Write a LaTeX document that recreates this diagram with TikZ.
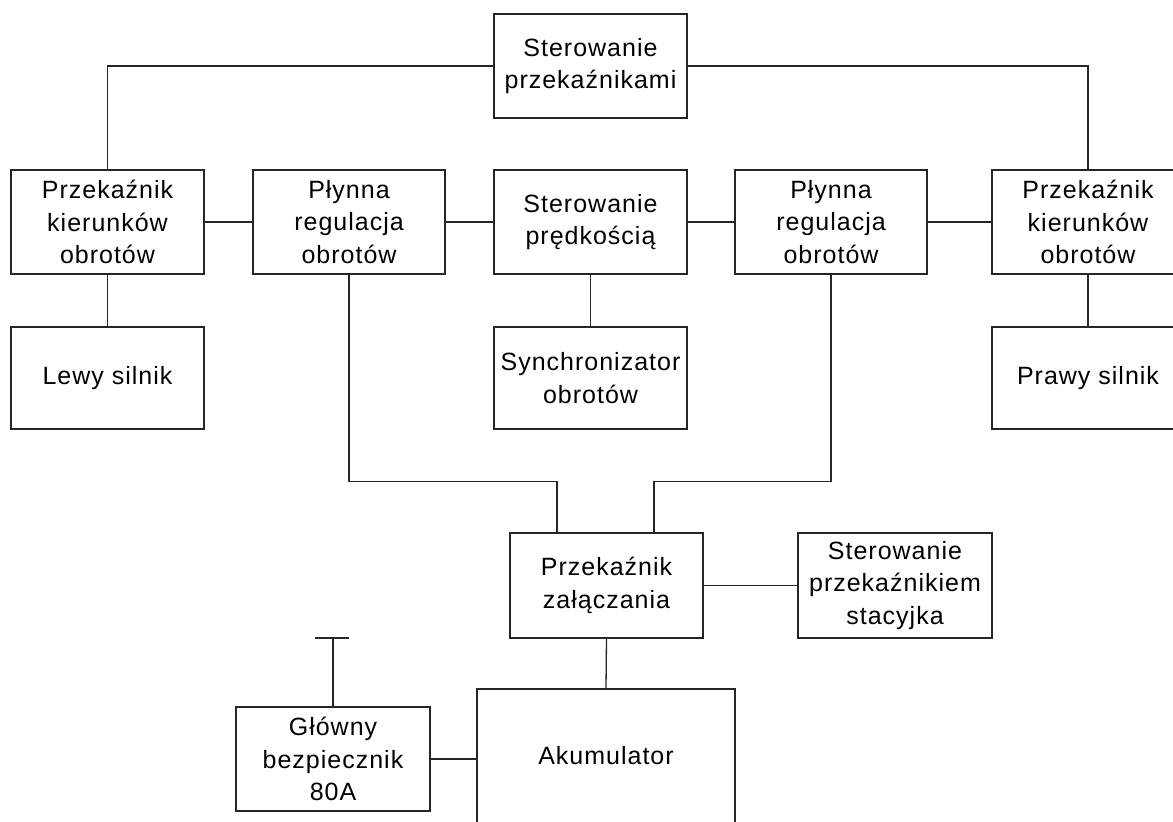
\documentclass[tikz,border=0pt]{standalone}
\usepackage{fontspec}
\setmainfont[LetterSpace=4.0]{Liberation Sans}
\begin{document}
\begin{tikzpicture}[x=1pt,y=-1pt,
  box/.style={draw=black!85, line width=1.3pt, inner sep=0pt, align=center,
    font=\fontsize{25}{32.5}\selectfont, minimum width=193pt, minimum height=104pt},
  wire/.style={draw=black!85, line width=1.3pt}]
\useasboundingbox (0,0) rectangle (1173,822);
\clip (0,0) rectangle (1173,822);
% top row
\node[box] (top) at (590.5,66) {Sterowanie\\przekaźnikami};
% second row
\node[box] (relL) at (107.5,222) {Przekaźnik\\kierunków\\obrotów};
\node[box, minimum width=192pt] (plL) at (349,222) {Płynna\\regulacja\\obrotów};
\node[box] (speed) at (590.5,222) {Sterowanie\\prędkością};
\node[box, minimum width=192pt] (plR) at (831,222) {Płynna\\regulacja\\obrotów};
\node[box, minimum width=192pt] (relR) at (1088,222) {Przekaźnik\\kierunków\\obrotów};
% third row
\node[box, minimum height=102pt] (lewy) at (107.5,378) {Lewy silnik};
\node[box, minimum height=102pt] (sync) at (590.5,378) {Synchronizator\\obrotów};
\node[box, minimum width=192pt, minimum height=102pt] (prawy) at (1088,378) {Prawy silnik};
% lower part
\node[box, minimum height=105pt] (zal) at (606.5,585.5) {Przekaźnik\\załączania};
\node[box, minimum width=194pt, minimum height=105pt] (stac) at (895,585.5) {Sterowanie\\przekaźnikiem\\stacyjka};
\node[box, minimum width=258pt, minimum height=134pt] (aku) at (606,756) {Akumulator};
\node[box, minimum width=194pt] (glow) at (333,759) {Główny\\bezpiecznik\\80A};
\coordinate (fuse) at (333,638);
% connectors
\draw[wire] (top.west) -| (relL.north);
\draw[wire] (top.east) -| (relR.north);
\draw[wire] (relL.east) -- (plL.west);
\draw[wire] (plL.east) -- (speed.west);
\draw[wire] (speed.east) -- (plR.west);
\draw[wire] (plR.east) -- (relR.west);
\draw[wire] (relL.south) -- (lewy.north);
\draw[wire] (speed.south) -- (sync.north);
\draw[wire] (relR.south) -- (prawy.north);
\draw[wire] (plL.south) |- ([xshift=-49.5pt,yshift=51pt]zal.north) -- ([xshift=-49.5pt]zal.north);
\draw[wire] (plR.south) |- ([xshift=47.5pt,yshift=51pt]zal.north) -- ([xshift=47.5pt]zal.north);
\draw[wire] (zal.east) -- (stac.west);
\draw[wire] (zal.south) -- (aku.north);
\draw[wire] (glow.east) -- (glow.east -| aku.west);
\draw[wire] (glow.north) -- (fuse);
\draw[wire] ([xshift=-18pt]fuse) -- ([xshift=16pt]fuse);
\end{tikzpicture}
\end{document}
